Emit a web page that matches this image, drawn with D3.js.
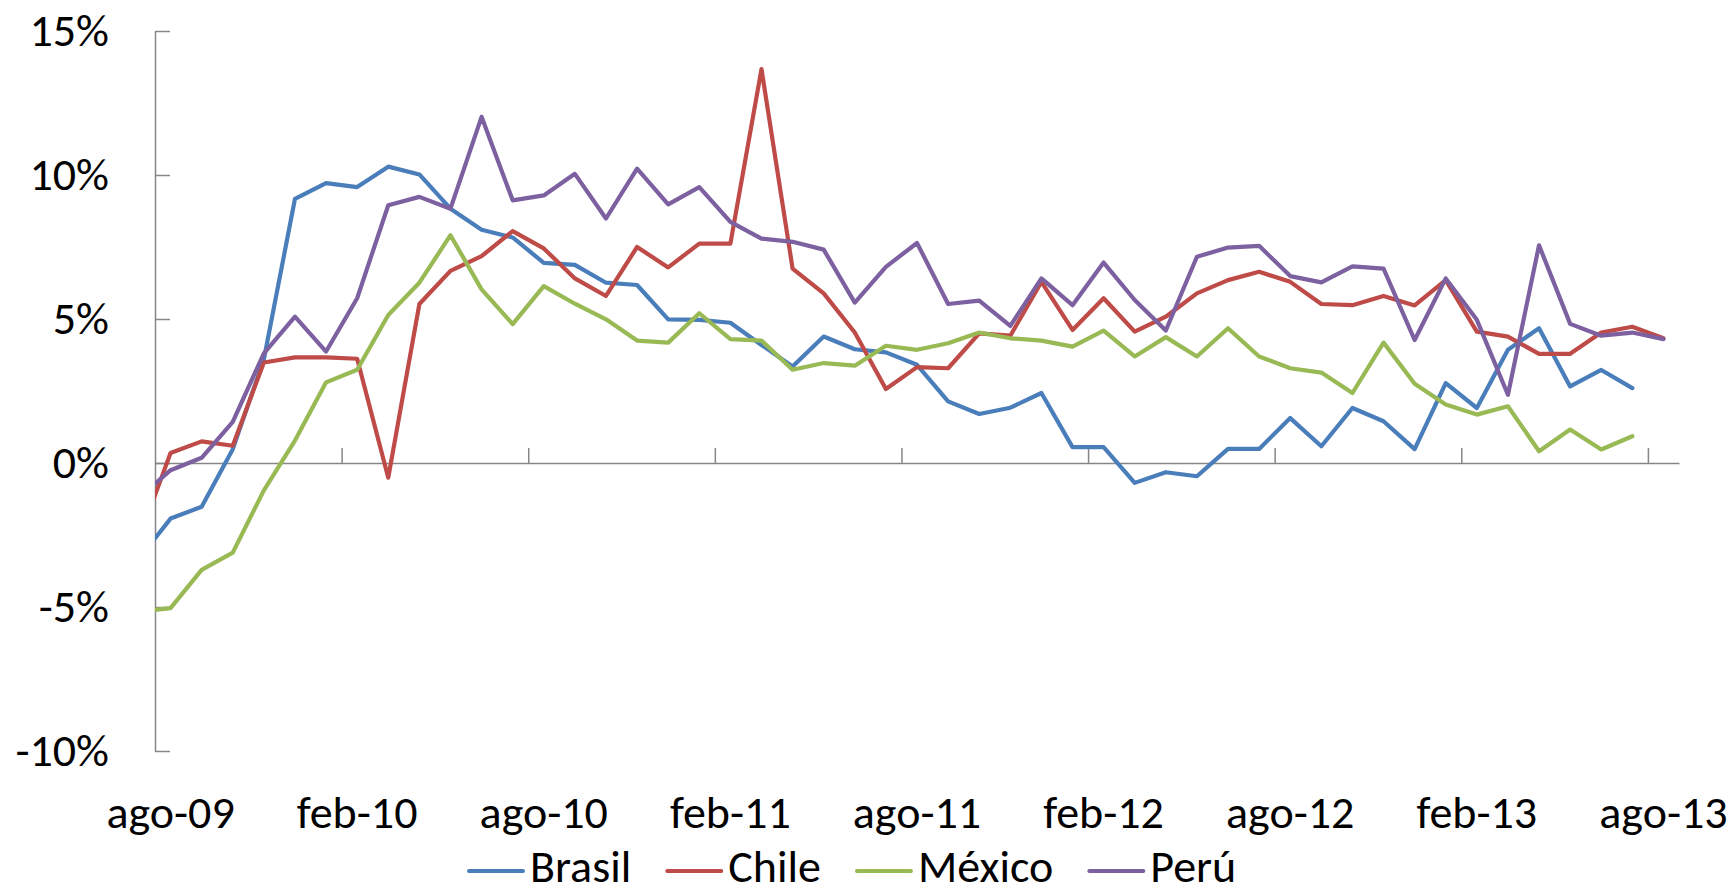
<!DOCTYPE html>
<html>
<head>
<meta charset="utf-8">
<script src="https://cdn.jsdelivr.net/npm/d3@7"></script>
<style>
  html, body { margin: 0; padding: 0; background: #ffffff; }
  svg { display: block; }
  text { font-family: Carlito, Lato, "Open Sans", sans-serif; fill: #000; }
</style>
</head>
<body>
<svg id="chart" width="1733" height="894"></svg>
<script>
// Monthly series, jul-09 .. ago-13 (year-on-year %, the first month sits just left of the axis)
const months = ["jul-09","ago-09","sep-09","oct-09","nov-09","dic-09","ene-10","feb-10","mar-10","abr-10","may-10","jun-10","jul-10",
  "ago-10","sep-10","oct-10","nov-10","dic-10","ene-11","feb-11","mar-11","abr-11","may-11","jun-11","jul-11",
  "ago-11","sep-11","oct-11","nov-11","dic-11","ene-12","feb-12","mar-12","abr-12","may-12","jun-12","jul-12",
  "ago-12","sep-12","oct-12","nov-12","dic-12","ene-13","feb-13","mar-13","abr-13","may-13","jun-13","jul-13","ago-13"];

const brasil = [-3.31,-1.93,-1.52,0.48,3.6,9.17,9.72,9.58,10.29,10.02,8.83,8.10,7.83,6.95,6.88,6.26,6.18,4.99,4.97,4.87,
  4.10,3.35,4.39,3.95,3.84,3.41,2.14,1.70,1.92,2.43,0.55,0.55,-0.69,-0.32,-0.46,0.49,0.49,1.56,0.58,1.91,1.45,0.48,
  2.77,1.91,3.93,4.68,2.66,3.23,2.60,null];

const chile = [-2.59,0.35,0.75,0.60,3.49,3.67,3.67,3.62,-0.51,5.52,6.67,7.18,8.05,7.45,6.41,5.80,7.50,6.79,7.62,7.62,
  13.68,6.75,5.89,4.53,2.57,3.33,3.29,4.50,4.42,6.29,4.62,5.72,4.56,5.08,5.89,6.35,6.64,6.29,5.52,5.48,5.80,5.47,
  6.35,4.56,4.39,3.79,3.79,4.53,4.73,4.33];

const mexico = [-5.16,-5.04,-3.71,-3.11,-0.95,0.78,2.80,3.24,5.14,6.26,7.91,6.03,4.82,6.14,5.53,4.99,4.25,4.18,5.20,4.30,
  4.25,3.24,3.47,3.38,4.07,3.93,4.16,4.53,4.33,4.25,4.04,4.60,3.70,4.37,3.70,4.68,3.70,3.29,3.14,2.43,4.18,2.75,
  2.03,1.68,1.97,0.41,1.16,0.47,0.93,null];

const peru = [-1.19,-0.25,0.18,1.43,3.81,5.08,3.87,5.72,8.95,9.24,8.83,12.02,9.12,9.29,10.04,8.49,10.22,8.98,9.58,8.37,
  7.79,7.68,7.41,5.57,6.81,7.64,5.52,5.64,4.76,6.41,5.48,6.96,5.66,4.60,7.16,7.48,7.54,6.49,6.27,6.83,6.75,4.27,
  6.41,4.97,2.37,7.56,4.83,4.42,4.53,4.30];

const seriesNames = ["Brasil", "Chile", "México", "Perú"];
const seriesColors = ["#4A7EBB", "#BE4B48", "#98B954", "#7D60A0"];
const seriesValues = [brasil, chile, mexico, peru];

const tickLabels = ["ago-09","feb-10","ago-10","feb-11","ago-11","feb-12","ago-12","feb-13","ago-13"];
const yTicks = [-10, -5, 0, 5, 10, 15];

// ---- layout ----
const svg = d3.select("#chart");
const plotLeft = 155, plotRight = 1679, plotTop = 31, plotBottom = 751;
const firstMonth = months.indexOf("ago-09");   // slot 0 of the date axis
const slots = months.length - firstMonth;       // ago-09 .. ago-13

const x = d3.scaleLinear().domain([0, slots]).range([plotLeft, plotRight]);
const y = d3.scaleLinear().domain([-10, 15]).range([plotBottom, plotTop]);
const xPoint = i => x(i - firstMonth + 0.5);     // points sit mid-slot

const axisColor = "#868686";
const fontSize = 46;

svg.append("clipPath").attr("id", "plot-clip")
  .append("rect").attr("x", plotLeft).attr("y", 0).attr("width", plotRight - plotLeft).attr("height", 894);

// ---- y axis ----
const yAxis = d3.axisRight(y).tickValues(yTicks).tickSize(15).tickFormat("").tickSizeOuter(0);
const gy = svg.append("g").attr("transform", `translate(${plotLeft},0)`).call(yAxis);
gy.select(".domain").attr("stroke", axisColor).attr("stroke-width", 1.5);
gy.selectAll(".tick line").attr("stroke", axisColor).attr("stroke-width", 1.5);

svg.append("g").selectAll("text").data(yTicks).join("text")
  .attr("x", 109)
  .attr("y", d => y(d) + fontSize * 0.32)
  .attr("text-anchor", "end")
  .attr("font-size", fontSize)
  .text(d => d + "%");

// ---- x axis (crosses at 0%) ----
const xTickSlots = tickLabels.map((_, k) => k * 6);
const xAxis = d3.axisTop(x).tickValues(xTickSlots.filter(s => s > 0)).tickSize(15).tickFormat("").tickSizeOuter(0);
const gx = svg.append("g").attr("transform", `translate(0,${y(0)})`).call(xAxis);
gx.select(".domain").attr("stroke", axisColor).attr("stroke-width", 1.5);
gx.selectAll(".tick line").attr("stroke", axisColor).attr("stroke-width", 1.5);

svg.append("g").selectAll("text").data(tickLabels).join("text")
  .attr("x", (d, k) => x(xTickSlots[k] + 0.5))
  .attr("y", 828)
  .attr("text-anchor", "middle")
  .attr("font-size", fontSize)
  .text(d => d);

// ---- series lines ----
const line = d3.line()
  .defined(d => d.v != null)
  .x(d => xPoint(d.i))
  .y(d => y(d.v));

const gLines = svg.append("g").attr("clip-path", "url(#plot-clip)");
seriesValues.forEach((vals, s) => {
  gLines.append("path")
    .datum(vals.map((v, i) => ({ i, v })))
    .attr("fill", "none")
    .attr("stroke", seriesColors[s])
    .attr("stroke-width", 4.2)
    .attr("stroke-linejoin", "round")
    .attr("stroke-linecap", "round")
    .attr("d", line);
});

// ---- legend ----
const legend = svg.append("g");
let lx = 469;
const ly = 871;
seriesNames.forEach((name, s) => {
  legend.append("line")
    .attr("x1", lx).attr("x2", lx + 54)
    .attr("y1", ly).attr("y2", ly)
    .attr("stroke", seriesColors[s])
    .attr("stroke-width", 4)
    .attr("stroke-linecap", "round");
  const t = legend.append("text")
    .attr("x", lx + 61)
    .attr("y", 882)
    .attr("font-size", fontSize)
    .text(name);
  lx += 61 + t.node().getComputedTextLength() + 36;
});
</script>
</body>
</html>
